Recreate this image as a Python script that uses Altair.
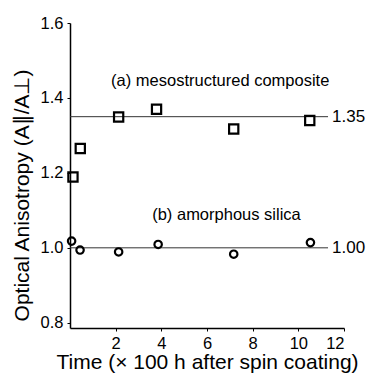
import altair as alt
import pandas as pd

# data
sq_x = [0.13, 0.45, 2.13, 3.79, 7.17, 10.5]
sq_y = [1.189, 1.265, 1.349, 1.370, 1.317, 1.340]
ci_x = [0.07, 0.44, 2.13, 3.86, 7.17, 10.53]
ci_y = [1.018, 0.994, 0.989, 1.009, 0.983, 1.014]
ref_vals = [1.35, 1.00]
ref_labels = ["1.35", "1.00"]
ref_end = 11.3
ann_text = ["(a) mesostructured composite", "(b) amorphous silica"]
ann_x = [1.8, 3.6]
ann_y = [1.444, 1.088]
y_ticks = [0.8, 0.9, 1.0, 1.1, 1.2, 1.3, 1.4, 1.5, 1.6]
x_ticks = [2, 4, 6, 8, 10, 12]

FONT = "Liberation Sans"

sq = pd.DataFrame({"x": sq_x, "y": sq_y})
ci = pd.DataFrame({"x": ci_x, "y": ci_y})
ref = pd.DataFrame({"x0": [0, 0], "x1": [ref_end, ref_end], "y": ref_vals, "label": ref_labels})
ann = pd.DataFrame({"x": ann_x, "y": ann_y, "t": ann_text})

xs = alt.Scale(domain=[0, 12], nice=False, zero=False)
ys = alt.Scale(domain=[0.786, 1.6], nice=False, zero=False)

xaxis = alt.Axis(values=x_ticks, title="Time (× 100 h after spin coating)", grid=False,
                 tickSize=3, labelPadding=4, titlePadding=0, labelFontSize=16.5, titleFontSize=21,
                 labelFont=FONT, titleFont=FONT, labelColor="black", titleColor="black",
                 domainColor="black", tickColor="black", domainWidth=1.5, titleFontWeight="normal")
yaxis = alt.Axis(values=y_ticks, title="Optical Anisotropy (A∥/A⊥)", grid=False, format=".1f",
                 labelExpr="round(datum.value*10)%2==0 ? datum.label : ''",
                 tickSize=3, labelPadding=4, titlePadding=8, labelFontSize=16.5, titleFontSize=21,
                 titleY=172,
                 labelFont=FONT, titleFont=FONT, labelColor="black", titleColor="black",
                 domainColor="black", tickColor="black", domainWidth=1.5, titleFontWeight="normal")

rules = alt.Chart(ref).mark_rule(color="#333333", strokeWidth=1).encode(
    x=alt.X("x0:Q", scale=xs, axis=xaxis), x2="x1:Q",
    y=alt.Y("y:Q", scale=ys, axis=yaxis))

rlab = alt.Chart(ref).mark_text(align="left", baseline="middle", dx=4, fontSize=17, font=FONT, color="black").encode(
    x=alt.X("x1:Q", scale=xs), y=alt.Y("y:Q", scale=ys), text="label:N")

squares = alt.Chart(sq).mark_point(shape="square", size=85, filled=False, color="black", strokeWidth=2.2, opacity=1).encode(
    x=alt.X("x:Q", scale=xs), y=alt.Y("y:Q", scale=ys))

circles = alt.Chart(ci).mark_point(shape="circle", size=55, filled=False, color="black", strokeWidth=2.2, opacity=1).encode(
    x=alt.X("x:Q", scale=xs), y=alt.Y("y:Q", scale=ys))

annot = alt.Chart(ann).mark_text(align="left", baseline="middle", fontSize=16.5, font=FONT, color="black").encode(
    x=alt.X("x:Q", scale=xs), y=alt.Y("y:Q", scale=ys), text="t:N")

chart = alt.layer(rules, rlab, squares, circles, annot).properties(
    width=274, height=305, autosize="none",
    padding={"left": 70, "top": 23, "right": 26, "bottom": 49},
    background="white"
).configure_view(stroke=None)

chart.save("out.html", embed_options={"renderer": "svg", "actions": False})
